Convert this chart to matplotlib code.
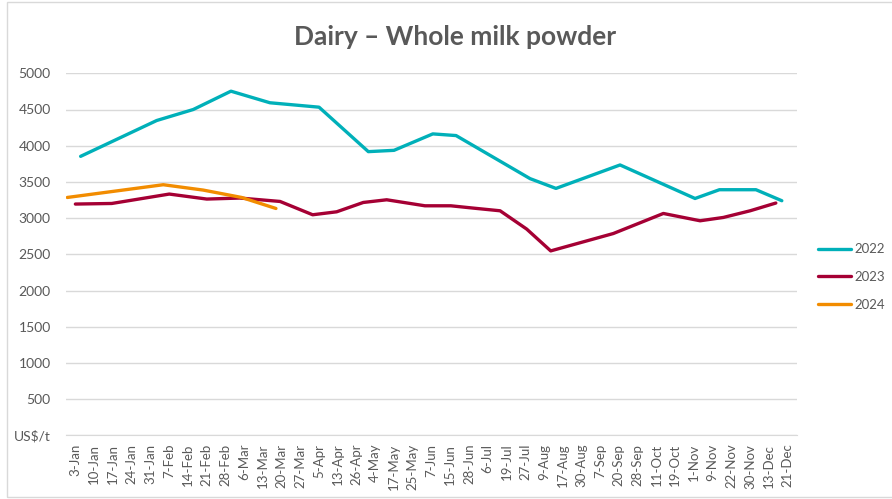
import matplotlib.pyplot as plt
from matplotlib.patches import Rectangle

# category labels along the x axis
labels = ['3-Jan', '10-Jan', '17-Jan', '24-Jan', '31-Jan', '7-Feb', '14-Feb', '21-Feb',
          '28-Feb', '6-Mar', '13-Mar', '20-Mar', '27-Mar', '5-Apr', '13-Apr', '26-Apr',
          '4-May', '17-May', '25-May', '7-Jun', '15-Jun', '28-Jun', '6-Jul', '19-Jul',
          '27-Jul', '9-Aug', '17-Aug', '30-Aug', '7-Sep', '20-Sep', '28-Sep', '11-Oct',
          '19-Oct', '1-Nov', '9-Nov', '22-Nov', '30-Nov', '13-Dec', '21-Dec']

# series positions (in category units) and values, US$/t
x_2022 = [0.28, 4.34, 6.29, 8.30, 10.38, 13.00, 15.63, 17.0, 19.07, 20.31, 24.26, 25.64,
          29.06, 33.06, 34.36, 36.31, 37.69]
y_2022 = [3853, 4348, 4500, 4753, 4593, 4532, 3918, 3936, 4163, 4140, 3545, 3410,
          3734, 3271, 3392, 3392, 3240]

x_2023 = [0.0, 1.94, 5.01, 7.01, 8.78, 10.92, 12.66, 13.94, 15.36, 16.61, 18.65,
          20.03, 21.23, 22.66, 24.08, 25.36, 28.70, 31.37, 33.33, 34.57, 36.0, 37.37]
y_2023 = [3194, 3202, 3332, 3263, 3277, 3230, 3046, 3087, 3216, 3253, 3170,
          3170, 3138, 3101, 2848, 2547, 2787, 3064, 2963, 3009, 3101, 3208]

x_2024 = [-0.43, 4.69, 6.82, 8.87, 10.70]
y_2024 = [3285, 3461, 3387, 3285, 3133]

grey = '#595959'
plt.rcParams['font.family'] = ['Lato', 'DejaVu Sans']

fig = plt.figure(figsize=(8.92, 4.99), dpi=100)
ax = fig.add_axes([66/892, 1-435.3/499, 731/892, 362/499])

ax.plot(x_2022, y_2022, color='#00B0B9', lw=2.4, label='2022', solid_capstyle='round')
ax.plot(x_2023, y_2023, color='#A50034', lw=2.4, label='2023', solid_capstyle='round')
ax.plot(x_2024, y_2024, color='#F28C00', lw=2.4, label='2024', solid_capstyle='round')

ax.set_xlim(-0.5, len(labels) - 0.5)
ax.set_ylim(0, 5000)
ax.set_xticks(range(len(labels)))
ax.set_xticklabels(labels, rotation=90, fontsize=9.5, color=grey)
yt = list(range(0, 5001, 500))
ax.set_yticks(yt)
ax.set_yticklabels(['US$/t'] + [str(v) for v in yt[1:]], fontsize=10, color=grey)
ax.tick_params(length=0, pad=6)
ax.tick_params(axis='y', pad=11)
ax.grid(axis='y', color='#D9D9D9', lw=1)
ax.set_axisbelow(True)
for s in ['top', 'right', 'left']:
    ax.spines[s].set_visible(False)
ax.spines['bottom'].set_color('#D9D9D9')

fig.text(455/892, 1-37/499, 'Dairy \u2013 Whole milk powder', ha='center', va='center',
         fontsize=19, fontweight='bold', color=grey)

leg = fig.legend(loc='center left', bbox_to_anchor=(806/892, 1-277/499), frameon=False,
                 fontsize=9.5, handlelength=2.5, labelspacing=1.2, handletextpad=0.3)
for t in leg.get_texts():
    t.set_color(grey)

fig.patches.append(Rectangle((7/892, 2/499), 890/892, 495/499, transform=fig.transFigure,
                             fill=False, edgecolor='#D9D9D9', lw=1))

fig.savefig('out.png', dpi=100)
